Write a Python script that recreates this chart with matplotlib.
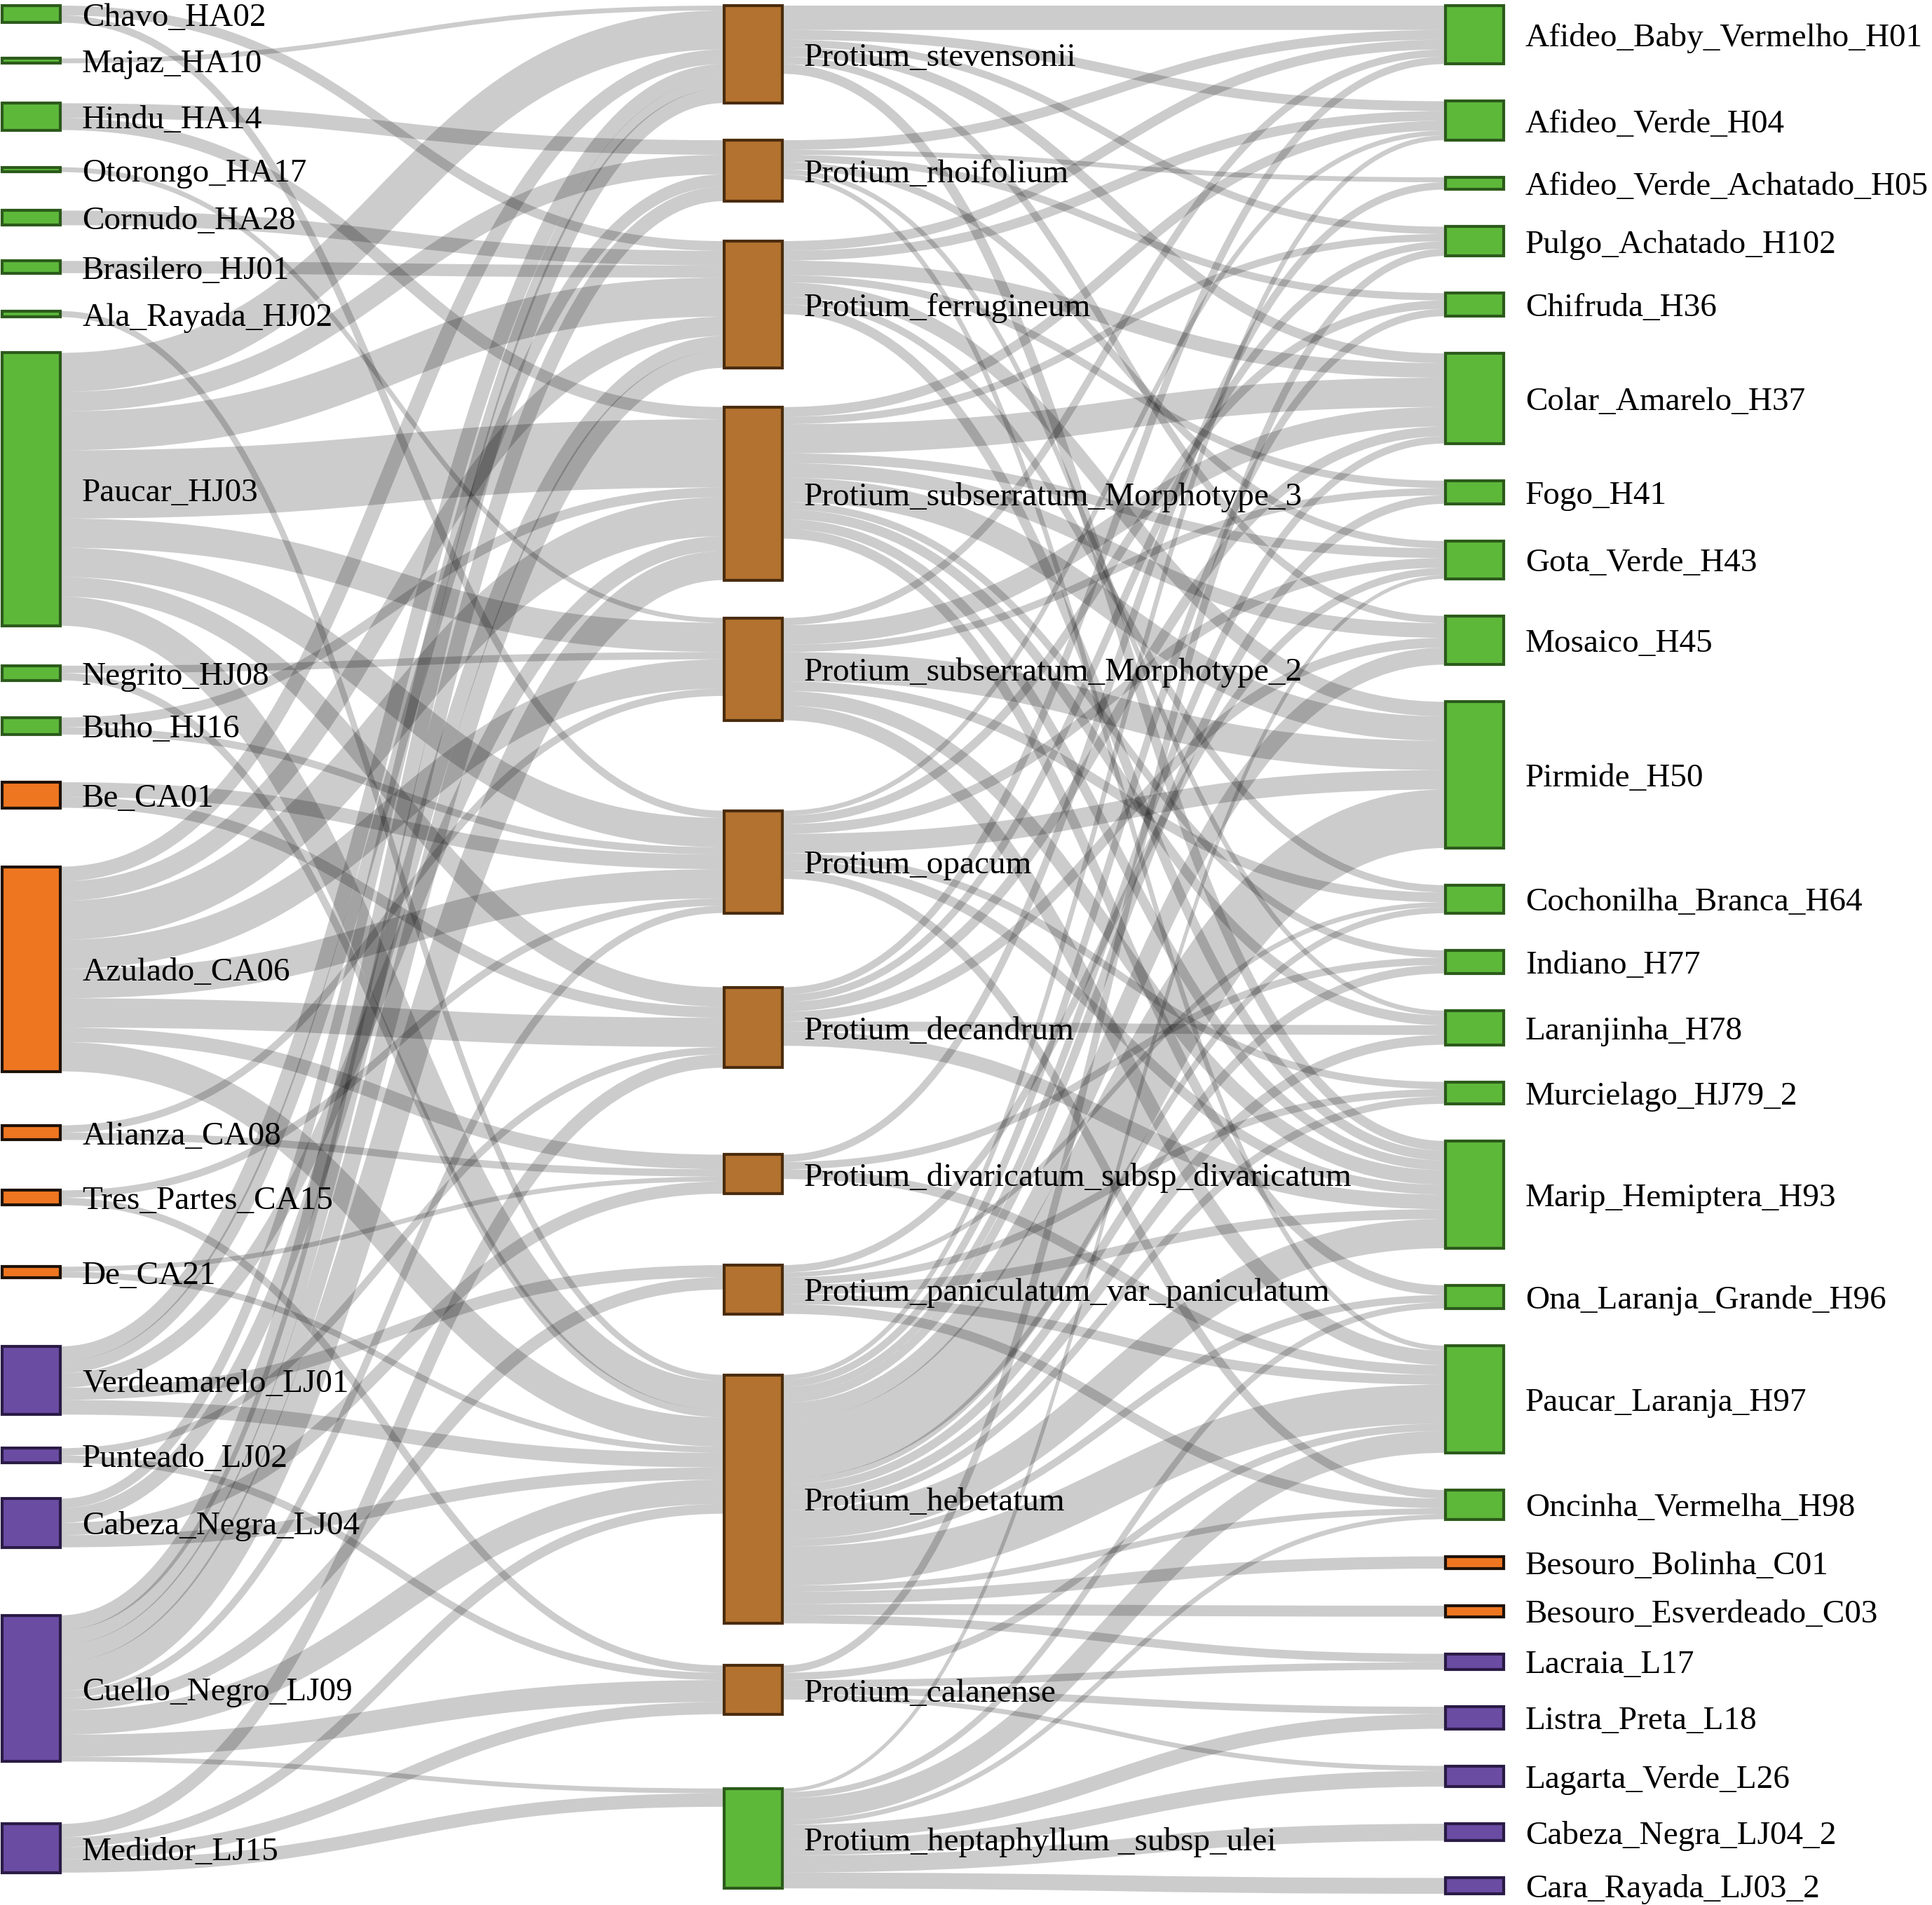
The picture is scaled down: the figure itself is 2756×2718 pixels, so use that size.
import matplotlib.pyplot as plt
from matplotlib.path import Path
from matplotlib.patches import PathPatch, Rectangle

# ---- nodes -------------------------------------------------------------
left_keys = ["HA02", "HA10", "HA14", "HA17", "HA28", "HJ01", "HJ02", "HJ03",
             "HJ08", "HJ16", "CA01", "CA06", "CA08", "CA15", "CA21",
             "LJ01", "LJ02", "LJ04", "LJ09", "LJ15"]
left_labels = ["Chavo_HA02", "Majaz_HA10", "Hindu_HA14", "Otorongo_HA17",
               "Cornudo_HA28", "Brasilero_HJ01", "Ala_Rayada_HJ02", "Paucar_HJ03",
               "Negrito_HJ08", "Buho_HJ16", "Be_CA01", "Azulado_CA06",
               "Alianza_CA08", "Tres_Partes_CA15", "De_CA21", "Verdeamarelo_LJ01",
               "Punteado_LJ02", "Cabeza_Negra_LJ04", "Cuello_Negro_LJ09", "Medidor_LJ15"]
left_groups = ["g"] * 10 + ["o"] * 5 + ["p"] * 5

mid_keys = ["stev", "rhoi", "ferr", "sub3", "sub2", "opac", "deca", "diva",
            "pani", "hebe", "cala", "hept"]
mid_labels = ["Protium_stevensonii", "Protium_rhoifolium", "Protium_ferrugineum",
              "Protium_subserratum_Morphotype_3", "Protium_subserratum_Morphotype_2",
              "Protium_opacum", "Protium_decandrum",
              "Protium_divaricatum_subsp_divaricatum",
              "Protium_paniculatum_var_paniculatum", "Protium_hebetatum",
              "Protium_calanense", "Protium_heptaphyllum _subsp_ulei"]
mid_groups = ["b"] * 11 + ["g"]

right_keys = ["H01", "H04", "H05", "H102", "H36", "H37", "H41", "H43", "H45",
              "H50", "H64", "H77", "H78", "HJ79_2", "H93", "H96", "H97", "H98",
              "C01", "C03", "L17", "L18", "L26", "LJ04_2", "LJ03_2"]
right_labels = ["Afideo_Baby_Vermelho_H01", "Afideo_Verde_H04",
                "Afideo_Verde_Achatado_H05", "Pulgo_Achatado_H102", "Chifruda_H36",
                "Colar_Amarelo_H37", "Fogo_H41", "Gota_Verde_H43", "Mosaico_H45",
                "Pirmide_H50", "Cochonilha_Branca_H64", "Indiano_H77",
                "Laranjinha_H78", "Murcielago_HJ79_2", "Marip_Hemiptera_H93",
                "Ona_Laranja_Grande_H96", "Paucar_Laranja_H97",
                "Oncinha_Vermelha_H98", "Besouro_Bolinha_C01",
                "Besouro_Esverdeado_C03", "Lacraia_L17", "Listra_Preta_L18",
                "Lagarta_Verde_L26", "Cabeza_Negra_LJ04_2", "Cara_Rayada_LJ03_2"]
right_groups = ["g"] * 18 + ["o"] * 2 + ["p"] * 5

# ---- links (estimated weights) ----------------------------------------
links_left = [
    ("HA02", "ferr", 2), ("HA02", "opac", 1.5),
    ("HA10", "stev", 1),
    ("HA14", "rhoi", 3), ("HA14", "sub3", 2.5),
    ("HA17", "sub2", 1),
    ("HA28", "ferr", 3),
    ("HJ01", "ferr", 2.5),
    ("HJ02", "hebe", 1.25),
    ("HJ03", "stev", 8), ("HJ03", "rhoi", 4), ("HJ03", "ferr", 8), ("HJ03", "sub3", 14),
    ("HJ03", "sub2", 6), ("HJ03", "opac", 6), ("HJ03", "deca", 4), ("HJ03", "hebe", 6),
    ("HJ08", "sub2", 1.5), ("HJ08", "hebe", 1.5),
    ("HJ16", "sub3", 2), ("HJ16", "opac", 1.5),
    ("CA01", "opac", 3), ("CA01", "deca", 2.25),
    ("CA06", "stev", 3), ("CA06", "ferr", 4), ("CA06", "sub3", 8), ("CA06", "sub2", 6),
    ("CA06", "opac", 6), ("CA06", "deca", 6), ("CA06", "diva", 3), ("CA06", "hebe", 6),
    ("CA08", "sub2", 1.5), ("CA08", "diva", 1.5),
    ("CA15", "opac", 1.5), ("CA15", "cala", 1.5),
    ("CA21", "diva", 1), ("CA21", "hebe", 1.25),
    ("LJ01", "stev", 3), ("LJ01", "rhoi", 2.5), ("LJ01", "sub3", 3), ("LJ01", "pani", 2.5),
    ("LJ01", "hebe", 3),
    ("LJ02", "deca", 1.5), ("LJ02", "cala", 1.5),
    ("LJ04", "stev", 2), ("LJ04", "ferr", 3), ("LJ04", "diva", 2.5), ("LJ04", "hebe", 2.5),
    ("LJ09", "stev", 3), ("LJ09", "rhoi", 3), ("LJ09", "ferr", 3.5), ("LJ09", "sub3", 6),
    ("LJ09", "opac", 1.5), ("LJ09", "pani", 2.5), ("LJ09", "hebe", 5), ("LJ09", "cala", 4.5),
    ("LJ09", "hept", 1),
    ("LJ15", "deca", 2.75), ("LJ15", "hebe", 2), ("LJ15", "cala", 2.5), ("LJ15", "hept", 2.75),
]

links_right = [
    ("stev", "H01", 5), ("stev", "H04", 2), ("stev", "H102", 1.5), ("stev", "H37", 2),
    ("stev", "H45", 1.5), ("stev", "H93", 2),
    ("rhoi", "H01", 2), ("rhoi", "H05", 1), ("rhoi", "H36", 1.5), ("rhoi", "H43", 1.5),
    ("rhoi", "H78", 1), ("rhoi", "H97", 1),
    ("ferr", "H01", 2), ("ferr", "H04", 2), ("ferr", "H37", 3), ("ferr", "H41", 1.5),
    ("ferr", "H50", 3), ("ferr", "H64", 1.5), ("ferr", "H93", 2),
    ("sub3", "H04", 2), ("sub3", "H102", 1.5), ("sub3", "H37", 6), ("sub3", "H43", 2),
    ("sub3", "H45", 3), ("sub3", "H50", 5), ("sub3", "H77", 1.5), ("sub3", "H78", 2),
    ("sub3", "H93", 2), ("sub3", "H96", 2),
    ("sub2", "H01", 1.5), ("sub2", "H37", 4), ("sub2", "H41", 1.5), ("sub2", "H50", 6),
    ("sub2", "H64", 2), ("sub2", "H93", 3), ("sub2", "H97", 3),
    ("opac", "H04", 1), ("opac", "H36", 1.75), ("opac", "H43", 2), ("opac", "H50", 4),
    ("opac", "HJ79_2", 1.5), ("opac", "H93", 2), ("opac", "H98", 1.75),
    ("deca", "H01", 1.5), ("deca", "H102", 1.5), ("deca", "H37", 2), ("deca", "H45", 2),
    ("deca", "H78", 2), ("deca", "H93", 3),
    ("diva", "H05", 1.5), ("diva", "H77", 1.5), ("diva", "H97", 2),
    ("pani", "H43", 1.5), ("pani", "H64", 1), ("pani", "HJ79_2", 1.5), ("pani", "H93", 2),
    ("pani", "H97", 2), ("pani", "H98", 2),
    ("hebe", "H04", 1), ("hebe", "H36", 1.5), ("hebe", "H37", 1.5), ("hebe", "H41", 1.75),
    ("hebe", "H45", 3.5), ("hebe", "H50", 12), ("hebe", "H64", 1.25), ("hebe", "H77", 1.75),
    ("hebe", "H78", 2), ("hebe", "HJ79_2", 1.5), ("hebe", "H93", 6), ("hebe", "H96", 1.5),
    ("hebe", "H97", 8), ("hebe", "H98", 1.25), ("hebe", "C01", 2.5), ("hebe", "C03", 2.25),
    ("hebe", "L17", 1.75),
    ("cala", "H102", 1.5), ("cala", "H97", 1.5), ("cala", "L17", 1.5), ("cala", "L18", 1.5),
    ("cala", "L26", 1),
    ("hept", "H43", 0.75), ("hept", "H96", 1.25), ("hept", "H97", 4.5), ("hept", "H98", 1),
    ("hept", "L18", 3), ("hept", "L26", 3.25), ("hept", "LJ04_2", 3.5), ("hept", "LJ03_2", 3.25),
]

# ---- layout settings ---------------------------------------------------
W, H = 2756, 2718
node_w = 83
col_x = [3, 1033, 2062]
y_top, y_bottom = 8, 2702
pad = 53
left_gaps = [0, 51, 57, 53, 55, 51, 54, 51, 57, 53, 68, 84, 77, 72, 88, 98, 48, 51, 97, 89]
mid_gaps = [0, 53, 57, 56, 54, 129, 106, 124, 102, 87, 60, 106]

fill = {"g": "#5DB83A", "o": "#EE7621", "p": "#6A4CA3", "b": "#B3722F"}
edge = {"g": "#2C5A1B", "o": "#1E1208", "p": "#2A1B45", "b": "#4A2C0E"}

links = [dict(s=s, t=t, v=v) for s, t, v in links_left + links_right]
val_in, val_out = {}, {}
for l in links:
    val_out[l["s"]] = val_out.get(l["s"], 0) + l["v"]
    val_in[l["t"]] = val_in.get(l["t"], 0) + l["v"]

columns = [(left_keys, left_labels, left_groups, left_gaps),
           (mid_keys, mid_labels, mid_groups, mid_gaps),
           (right_keys, right_labels, right_groups, [0] + [pad] * (len(right_keys) - 1))]

right_total = sum(max(val_in.get(k, 0), val_out.get(k, 0)) for k in right_keys)
ky = (y_bottom - y_top - pad * (len(right_keys) - 1)) / right_total

nodes = {}
for ci, (keys, labels, groups, gaps) in enumerate(columns):
    y = y_top
    for k, lab, g, gap in zip(keys, labels, groups, gaps):
        y += gap
        h = max(val_in.get(k, 0), val_out.get(k, 0)) * ky
        nodes[k] = dict(x=col_x[ci], y=y, h=h, label=lab, group=g)
        y += h

# link offsets inside nodes (sorted like d3 sankey)
for k, n in nodes.items():
    out_l = sorted([l for l in links if l["s"] == k], key=lambda l: nodes[l["t"]]["y"])
    in_l = sorted([l for l in links if l["t"] == k], key=lambda l: nodes[l["s"]]["y"])
    off = 0
    for l in out_l:
        l["sy"] = off
        off += l["v"] * ky
    off = 0
    for l in in_l:
        l["ty"] = off
        off += l["v"] * ky

fig = plt.figure(figsize=(W / 100, H / 100), dpi=100)
ax = fig.add_axes([0, 0, 1, 1])
ax.set_xlim(0, W)
ax.set_ylim(H, 0)
ax.axis("off")

for l in sorted(links, key=lambda l: -l["v"]):
    s, t = nodes[l["s"]], nodes[l["t"]]
    dy = l["v"] * ky
    x0 = s["x"] + node_w
    x1 = t["x"]
    xm = (x0 + x1) / 2
    y0 = s["y"] + l["sy"] + dy / 2
    y1 = t["y"] + l["ty"] + dy / 2
    path = Path([(x0, y0), (xm, y0), (xm, y1), (x1, y1)],
                [Path.MOVETO, Path.CURVE4, Path.CURVE4, Path.CURVE4])
    ax.add_patch(PathPatch(path, fill=False, edgecolor=(0, 0, 0, 0.2),
                           lw=dy * 0.72, capstyle="butt", zorder=1))

fs = 34
em = fs * 100 / 72
for k, n in nodes.items():
    ax.add_patch(Rectangle((n["x"], n["y"]), node_w, n["h"],
                           facecolor=fill[n["group"]], edgecolor=edge[n["group"]],
                           lw=3, zorder=2))
    ax.text(n["x"] + node_w + 31, n["y"] + n["h"] / 2 + 0.35 * em, n["label"],
            fontsize=fs, family="Liberation Serif", va="baseline", ha="left",
            color="black", zorder=3)

fig.savefig("out.png", dpi=100)
